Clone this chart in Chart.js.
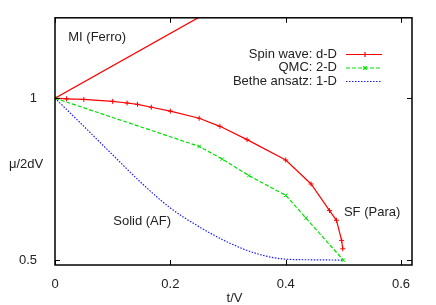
<!DOCTYPE html>
<html lang="en">
<head>
    <meta charset="UTF-8">
    <title>Chemical potential vs t/V</title>
    <script src="https://cdn.jsdelivr.net/npm/chart.js"></script>
    <style>
        body {
            margin: 0;
            background-color: #ffffff;
        }
        canvas {
            display: block;
        }
    </style>
</head>
<body>
    <canvas id="muChart" width="436" height="305"></canvas>
    <script>
        // values
        const spinWaveT = [0, 0.02, 0.05, 0.1, 0.125, 0.143, 0.167, 0.2, 0.25, 0.286, 0.333, 0.4, 0.444, 0.476, 0.488, 0.497, 0.499];
        const spinWaveMu = [1, 0.998, 0.996, 0.99, 0.985, 0.981, 0.972, 0.96, 0.938, 0.913, 0.872, 0.809, 0.735, 0.653, 0.623, 0.561, 0.535];

        const qmcT = [0, 0.25, 0.29, 0.336, 0.4, 0.435, 0.5];
        const qmcMu = [1, 0.851, 0.812, 0.761, 0.7, 0.63, 0.5];

        const betheT = [0, 0.05, 0.1, 0.15, 0.2, 0.25, 0.3, 0.35, 0.4, 0.45, 0.5];
        const betheMu = [1, 0.913, 0.825, 0.738, 0.661, 0.603, 0.555, 0.52, 0.503, 0.501, 0.5];

        const ferroT = [0, 0.25];
        const ferroMu = [1, 1.25];

        const seriesNames = ['Spin wave: d-D', 'QMC: 2-D', 'Bethe ansatz: 1-D'];

        const xTicks = [0, 0.2, 0.4, 0.6];
        const xTickLabels = ['0', '0.2', '0.4', '0.6'];
        const yTicks = [0.5, 1];
        const yTickLabels = ['0.5', '1'];

        const regionLabels = ['MI (Ferro)', 'Solid (AF)', 'SF (Para)'];
        const regionAt = [[0.023, 1.187], [0.101, 0.62], [0.501, 0.647]];

        const FONT = 'Liberation Sans, Arial, sans-serif';
        const TEXT = '#222222';

        function toPoints(xs, ys) {
            return xs.map((x, i) => ({ x: x, y: ys[i] }));
        }

        // frame with inward ticks, region texts, axis titles and the key
        const decorations = {
            id: 'decorations',
            afterDatasetsDraw(chart) {
                const ctx = chart.ctx;
                const area = chart.chartArea;
                const xs = chart.scales.x;
                const ys = chart.scales.y;
                ctx.save();

                ctx.strokeStyle = '#000';
                ctx.lineWidth = 1.5;
                ctx.strokeRect(area.left, area.top, area.right - area.left, area.bottom - area.top);

                ctx.lineWidth = 1;
                ctx.beginPath();
                xTicks.forEach(v => {
                    const px = Math.round(xs.getPixelForValue(v)) + 0.5;
                    ctx.moveTo(px, area.bottom); ctx.lineTo(px, area.bottom - 5);
                    ctx.moveTo(px, area.top); ctx.lineTo(px, area.top + 5);
                });
                yTicks.forEach(v => {
                    const py = Math.round(ys.getPixelForValue(v)) + 0.5;
                    ctx.moveTo(area.left, py); ctx.lineTo(area.left + 5, py);
                    ctx.moveTo(area.right, py); ctx.lineTo(area.right - 5, py);
                });
                ctx.stroke();

                ctx.fillStyle = TEXT;
                ctx.font = '13px ' + FONT;
                ctx.textBaseline = 'middle';
                ctx.textAlign = 'left';
                regionLabels.forEach((txt, i) => {
                    ctx.fillText(txt, xs.getPixelForValue(regionAt[i][0]), ys.getPixelForValue(regionAt[i][1]));
                });

                // axis titles
                ctx.fillText('\u03bc/2dV', 9, area.top + 0.594 * (area.bottom - area.top));
                ctx.textAlign = 'center';
                ctx.fillText('t/V', (area.left + area.right) / 2 + 1, 298);

                // key, top right inside the plot
                const keyRight = area.right - 30;
                const keyLeft = area.right - 66;
                chart.data.datasets.forEach((ds, i) => {
                    if (!ds.inKey) return;
                    const y = 54 + i * 13.5;
                    ctx.fillStyle = TEXT;
                    ctx.textAlign = 'right';
                    ctx.fillText(ds.label, keyLeft - 9, y);
                    ctx.strokeStyle = ds.borderColor;
                    ctx.lineWidth = ds.borderWidth;
                    ctx.setLineDash(ds.borderDash || []);
                    ctx.beginPath();
                    ctx.moveTo(keyLeft, y + 0.5);
                    ctx.lineTo(keyRight, y + 0.5);
                    ctx.stroke();
                    ctx.setLineDash([]);
                    if (ds.pointRadius > 0) {
                        Chart.helpers.drawPoint(ctx, {
                            pointStyle: ds.pointStyle,
                            radius: ds.pointRadius,
                            rotation: 0,
                            borderWidth: 1
                        }, (keyLeft + keyRight) / 2 + 1, y + 0.5);
                    }
                });
                ctx.restore();
            }
        };

        const ctx = document.getElementById('muChart').getContext('2d');
        const muChart = new Chart(ctx, {
            type: 'line',
            data: {
                datasets: [
                    {
                        label: seriesNames[0],
                        inKey: true,
                        data: toPoints(spinWaveT, spinWaveMu),
                        borderColor: '#ff0000',
                        backgroundColor: '#ff0000',
                        borderWidth: 1.2,
                        pointStyle: 'cross',
                        pointRadius: 2.5,
                        pointBorderWidth: 1,
                        tension: 0
                    },
                    {
                        label: seriesNames[1],
                        inKey: true,
                        data: toPoints(qmcT, qmcMu),
                        borderColor: '#00e000',
                        backgroundColor: '#00e000',
                        borderWidth: 1.2,
                        borderDash: [4, 2],
                        pointStyle: 'crossRot',
                        pointRadius: 2.5,
                        pointBorderWidth: 1,
                        tension: 0
                    },
                    {
                        label: seriesNames[2],
                        inKey: true,
                        data: toPoints(betheT, betheMu),
                        borderColor: '#1a1aff',
                        backgroundColor: '#1a1aff',
                        borderWidth: 1.2,
                        borderDash: [1.5, 1.5],
                        pointRadius: 0,
                        cubicInterpolationMode: 'monotone'
                    },
                    {
                        label: 'MI boundary',
                        inKey: false,
                        data: toPoints(ferroT, ferroMu),
                        borderColor: '#ff0000',
                        borderWidth: 1.2,
                        pointRadius: 0,
                        tension: 0
                    }
                ]
            },
            options: {
                responsive: false,
                animation: false,
                events: [],
                layout: {
                    padding: { top: 16, right: 24, left: 0, bottom: 0 }
                },
                plugins: {
                    legend: { display: false },
                    tooltip: { enabled: false }
                },
                scales: {
                    x: {
                        type: 'linear',
                        min: 0,
                        max: 0.619,
                        grid: { display: false },
                        border: { display: false },
                        afterBuildTicks: s => { s.ticks = xTicks.map(v => ({ value: v })); },
                        afterFit: s => { s.height = 40; },
                        ticks: {
                            padding: 4,
                            color: TEXT,
                            maxRotation: 0,
                            font: { family: FONT, size: 13 },
                            callback: (v, i) => xTickLabels[i]
                        }
                    },
                    y: {
                        type: 'linear',
                        min: 0.485,
                        max: 1.248,
                        grid: { display: false },
                        border: { display: false },
                        afterBuildTicks: s => { s.ticks = yTicks.map(v => ({ value: v })); },
                        afterFit: s => { s.width = 55; },
                        ticks: {
                            padding: 10,
                            color: TEXT,
                            font: { family: FONT, size: 13 },
                            callback: (v, i) => yTickLabels[i]
                        }
                    }
                }
            },
            plugins: [decorations]
        });
    </script>
</body>
</html>
